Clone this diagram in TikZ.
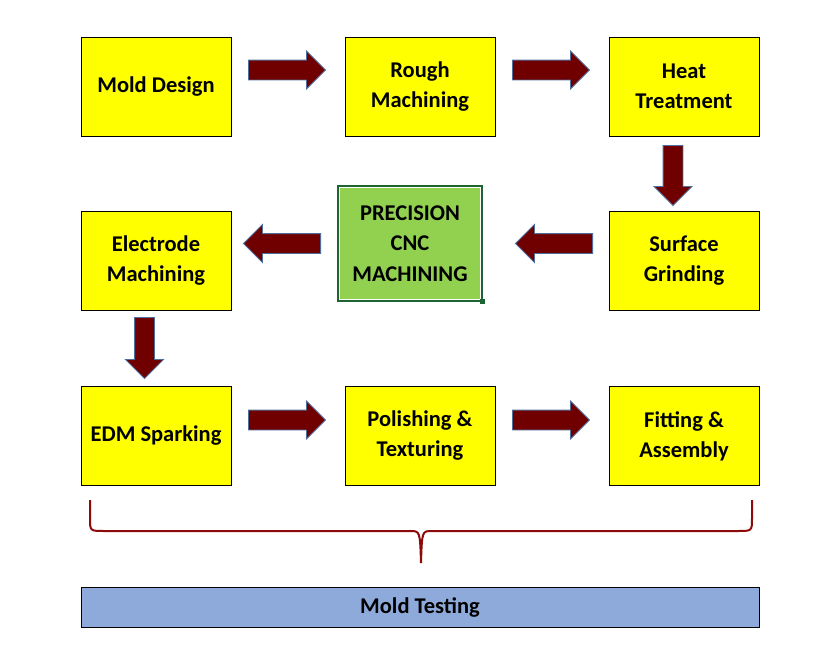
\documentclass[tikz,border=0pt]{standalone}
\usepackage{fontspec}
\setmainfont{Carlito}
\usetikzlibrary{shapes.arrows,calc}

\definecolor{boxyellow}{RGB}{255,255,0}
\definecolor{cncgreen}{RGB}{146,208,80}
\definecolor{cncedge}{RGB}{30,100,50}
\definecolor{testblue}{RGB}{142,170,219}
\definecolor{arrowfill}{RGB}{112,0,0}
\definecolor{arrowedge}{RGB}{80,110,155}
\definecolor{bracered}{RGB}{140,10,10}

\tikzset{
  procbox/.style={draw=black,fill=boxyellow,line width=0.8pt,minimum width=150pt,
    minimum height=99pt,align=center,inner sep=0pt,
    font=\fontsize{22.5}{30}\selectfont\bfseries},
  blockarrow/.style={single arrow,draw=arrowedge,fill=arrowfill,line width=0.9pt,
    minimum height=77pt,minimum width=37pt,single arrow head extend=9pt,
    inner xsep=0pt,inner ysep=9.5pt,anchor=tail},
  downarrow/.style={blockarrow,shape border rotate=270,minimum height=60pt,
    inner xsep=9.5pt,inner ysep=0pt}
}

\begin{document}
\begin{tikzpicture}[x=1pt,y=-1pt]

\useasboundingbox (0,0) rectangle (839,664) ;

% first row
\node[procbox] (design) at (156,86.5) {Mold Design} ;
\node[procbox] (rough) at (420,86.5) {Rough\\Machining} ;
\node[procbox] (heat) at (684,86.5) {Heat\\Treatment} ;

% second row
\node[procbox] (electrode) at (156,261) {Electrode\\Machining} ;
\node[procbox] (grinding) at (684,261) {Surface\\Grinding} ;
\node[draw=cncedge,fill=cncgreen,line width=1.6pt,minimum width=144pt,minimum height=115pt,
  align=center,inner sep=0pt,font=\fontsize{22.5}{30.5}\selectfont\bfseries]
  (cnc) at (410,243.5) {PRECISION\\CNC\\MACHINING} ;
\draw[white,line width=1pt] ($(cnc.south west)+(2.5,-2.5)$) rectangle ($(cnc.north east)+(-2.5,2.5)$) ;
\fill[cncedge] ($(cnc.south east)+(-2.5,-2.5)$) rectangle ++(5,5) ;

% third row
\node[procbox] (edm) at (156,436) {EDM Sparking} ;
\node[procbox] (polish) at (420,436) {Polishing \&\\Texturing} ;
\node[procbox] (fitting) at (684,436) {Fitting \&\\Assembly} ;

% block arrows
\node[blockarrow] (a1) at (248,70) {} ;
\node[blockarrow] (a2) at (512,70) {} ;
\node[downarrow] (a3) at (673,145) {} ;
\node[blockarrow,shape border rotate=180] (a4) at (593,243.5) {} ;
\node[blockarrow,shape border rotate=180] (a5) at (321,243.5) {} ;
\node[downarrow,minimum height=61pt] (a6) at (144.5,317) {} ;
\node[blockarrow] (a7) at (248,420) {} ;
\node[blockarrow] (a8) at (512,420) {} ;

% brace
\coordinate (brtip) at (421,563) ;
\draw[bracered,line width=2pt] (90,500) -- (90,518) .. controls (90,531) .. (104,531)
  -- (410,531) .. controls (420,531) .. (brtip) ;
\draw[bracered,line width=2pt] (752,500) -- (752,518) .. controls (752,531) .. (738,531)
  -- (432,531) .. controls (422,531) .. (brtip) ;

% mold testing
\node[draw=black,fill=testblue,line width=0.8pt,minimum width=678pt,minimum height=40pt,
  inner sep=0pt,font=\fontsize{22.5}{30}\selectfont\bfseries] (testing) at (420,607) {Mold Testing} ;

\end{tikzpicture}
\end{document}
